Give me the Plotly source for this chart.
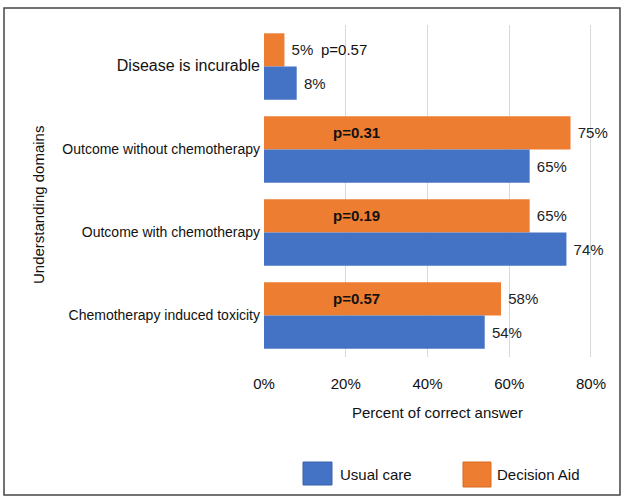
import plotly.graph_objects as go

categories = ["Disease is incurable", "Outcome without chemotherapy",
              "Outcome with chemotherapy", "Chemotherapy induced toxicity"]
decision_aid = [5, 75, 65, 58]
usual_care = [8, 65, 74, 54]
p_values = ["p=0.57", "p=0.31", "p=0.19", "p=0.57"]
p_bold = [False, True, True, True]
series_names = ["Usual care", "Decision Aid"]
x_ticks = [0, 20, 40, 60, 80]
x_tick_labels = ["0%", "20%", "40%", "60%", "80%"]

BLUE = "#4472C4"
ORANGE = "#ED7D31"
FONT = "Arial, Liberation Sans, sans-serif"

fig = go.Figure()
fig.add_trace(go.Bar(
    y=categories, x=decision_aid, orientation="h", name=series_names[1],
    marker=dict(color=ORANGE, line=dict(width=0)),
    text=[f"\u00a0{v}%" for v in decision_aid], textposition="outside",
    textfont=dict(size=15, color="#222", family=FONT), cliponaxis=False,
))
fig.add_trace(go.Bar(
    y=categories, x=usual_care, orientation="h", name=series_names[0],
    marker=dict(color=BLUE, line=dict(width=0)),
    text=[f"\u00a0{v}%" for v in usual_care], textposition="outside",
    textfont=dict(size=15, color="#222", family=FONT), cliponaxis=False,
))

L, R, T, B = 264, 31, 25, 143
W, H = 624, 500
pw, ph = W - L - R, H - T - B

def px(x):
    return (x - L) / pw

def py(y):
    return (H - B - y) / ph

annotations = []
for i, (p, b) in enumerate(zip(p_values, p_bold)):
    annotations.append(dict(
        x=16.5 if b else 13.5, y=i - 0.2, xref="x", yref="y",
        text=f"<b>{p}</b>" if b else p, showarrow=False, xanchor="left", yanchor="middle",
        font=dict(size=15, color="#111", family=FONT),
    ))
annotations.append(dict(x=px(38), y=py(205), xref="paper", yref="paper",
                        xanchor="center", yanchor="middle",
                        text="Understanding domains", textangle=-90, showarrow=False,
                        font=dict(size=15, color="#111", family=FONT)))
annotations.append(dict(x=px(437), y=py(412), xref="paper", yref="paper",
                        xanchor="center", yanchor="middle",
                        text="Percent of correct answer", showarrow=False,
                        font=dict(size=15, color="#111", family=FONT)))
annotations.append(dict(x=px(338), y=py(474), xref="paper", yref="paper",
                        xanchor="left", yanchor="middle",
                        text=series_names[0], showarrow=False,
                        font=dict(size=15, color="#111", family=FONT)))
annotations.append(dict(x=px(495), y=py(474), xref="paper", yref="paper",
                        xanchor="left", yanchor="middle",
                        text=series_names[1], showarrow=False,
                        font=dict(size=15, color="#111", family=FONT)))

shapes = [
    dict(type="rect", xref="paper", yref="paper", x0=px(4), x1=px(620), y0=py(495), y1=py(8),
         line=dict(color="#444", width=1.5), fillcolor="rgba(0,0,0,0)", layer="below"),
    dict(type="rect", xref="paper", yref="paper", x0=px(303), x1=px(332), y0=py(485), y1=py(462),
         line=dict(color="#3a62ad", width=1), fillcolor=BLUE),
    dict(type="rect", xref="paper", yref="paper", x0=px(463), x1=px(491), y0=py(487), y1=py(462),
         line=dict(color="#d86a20", width=1), fillcolor=ORANGE),
]

tick_text = [f'<span style="font-size:16px">{c}</span>' if i == 0 else c
             for i, c in enumerate(categories)]

fig.update_layout(
    width=W, height=H, margin=dict(l=L, r=R, t=T, b=B),
    paper_bgcolor="white", plot_bgcolor="white",
    barmode="group", bargap=0.2, bargroupgap=0, showlegend=False,
    font=dict(family=FONT, color="#111"),
    annotations=annotations, shapes=shapes,
    xaxis=dict(range=[0, 80.5], tickvals=x_ticks, ticktext=x_tick_labels,
               showgrid=True, gridcolor="#d9d9d9", gridwidth=1, zeroline=False,
               showline=False, ticks="", ticklabelstandoff=16,
               tickfont=dict(size=15, color="#111", family=FONT)),
    yaxis=dict(autorange="reversed", showgrid=False, showline=False, ticks="",
               tickvals=categories, ticktext=tick_text, ticklabelstandoff=3,
               tickfont=dict(size=14, color="#111", family=FONT)),
)

fig.write_html("out.html", config={"displayModeBar": False},
               post_script="document.body.style.margin='0';")
